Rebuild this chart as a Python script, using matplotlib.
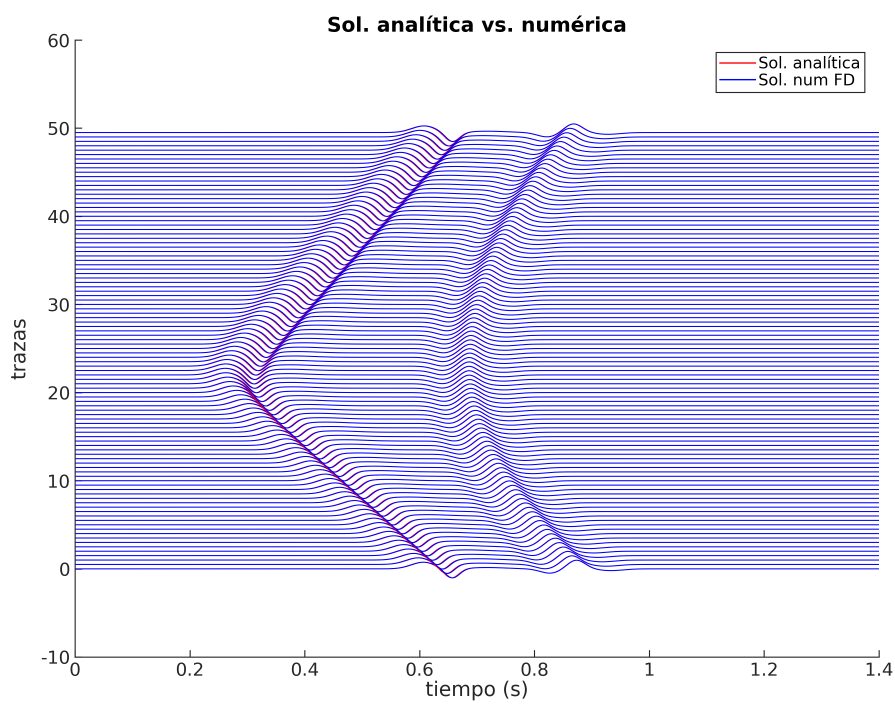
import numpy as np
import matplotlib
matplotlib.use("Agg")
import matplotlib.pyplot as plt

plt.rcParams["axes.unicode_minus"] = False

# Trace offsets (one trace every half unit on the y axis)
trace_offsets = np.arange(0, 50, 0.5)

# Trough time of the direct arrival on each trace (s), bottom to top
direct_t = [
    0.655, 0.646, 0.638, 0.629, 0.621, 0.612, 0.604, 0.595, 0.586, 0.578,
    0.569, 0.561, 0.552, 0.544, 0.535, 0.527, 0.518, 0.509, 0.501, 0.492,
    0.484, 0.475, 0.467, 0.459, 0.450, 0.442, 0.433, 0.425, 0.416, 0.408,
    0.400, 0.392, 0.383, 0.375, 0.367, 0.359, 0.352, 0.344, 0.337, 0.330,
    0.324, 0.318, 0.314, 0.311, 0.310, 0.311, 0.313, 0.317, 0.321, 0.326,
    0.331, 0.337, 0.343, 0.349, 0.355, 0.361, 0.368, 0.374, 0.381, 0.387,
    0.394, 0.400, 0.407, 0.414, 0.420, 0.427, 0.434, 0.440, 0.447, 0.454,
    0.460, 0.467, 0.474, 0.480, 0.487, 0.494, 0.501, 0.507, 0.514, 0.521,
    0.528, 0.534, 0.541, 0.548, 0.555, 0.561, 0.568, 0.575, 0.582, 0.588,
    0.595, 0.602, 0.609, 0.615, 0.622, 0.629, 0.636, 0.642, 0.649, 0.656,
]

# Peak time of the reflected arrival on each trace (s), bottom to top
refl_t = [
    0.872, 0.864, 0.857, 0.849, 0.842, 0.835, 0.828, 0.821, 0.815, 0.808,
    0.802, 0.795, 0.789, 0.783, 0.777, 0.772, 0.766, 0.761, 0.755, 0.750,
    0.745, 0.741, 0.736, 0.732, 0.727, 0.723, 0.720, 0.716, 0.712, 0.709,
    0.706, 0.703, 0.701, 0.698, 0.696, 0.694, 0.692, 0.690, 0.689, 0.688,
    0.687, 0.686, 0.685, 0.685, 0.685, 0.685, 0.685, 0.686, 0.686, 0.687,
    0.687, 0.688, 0.689, 0.690, 0.692, 0.693, 0.695, 0.696, 0.698, 0.700,
    0.702, 0.704, 0.707, 0.709, 0.712, 0.714, 0.717, 0.720, 0.723, 0.726,
    0.730, 0.733, 0.737, 0.740, 0.744, 0.748, 0.752, 0.756, 0.760, 0.764,
    0.768, 0.773, 0.777, 0.782, 0.787, 0.791, 0.796, 0.801, 0.806, 0.811,
    0.817, 0.822, 0.827, 0.833, 0.838, 0.844, 0.850, 0.855, 0.861, 0.867,
]

# Small lag of the finite-difference solution behind the analytic one (s)
fd_lag_direct = 0.002
fd_lag_refl = 0.001

t = np.arange(0.0, 1.4001, 0.001)


def direct_wavelet(tau):
    # leading positive lobe, main trough, weak positive tail
    return (0.75 * np.exp(-((tau + 0.05) / 0.03) ** 2)
            - 1.1 * np.exp(-(tau / 0.018) ** 2)
            + 0.15 * np.exp(-((tau - 0.06) / 0.05) ** 2))


def refl_wavelet(tau):
    # leading trough, main peak, weak trailing trough
    return (-0.5 * np.exp(-((tau + 0.045) / 0.025) ** 2)
            + 1.0 * np.exp(-(tau / 0.022) ** 2)
            - 0.2 * np.exp(-((tau - 0.06) / 0.03) ** 2))


# Drawn at 3x resolution and box-filtered down to 895 x 704 pixels
SS = 3
W, H = 895, 704
fig = plt.figure(figsize=(W / 100, H / 100), dpi=100 * SS)
ax = fig.add_axes([75 / W, 1 - 657 / H, (879 - 75) / W, (657 - 40) / H])

for i, y in enumerate(trace_offsets):
    td, tr = direct_t[i], refl_t[i]
    ana = direct_wavelet(t - td) + refl_wavelet(t - tr)
    num = (direct_wavelet(t - td - fd_lag_direct)
           + refl_wavelet(t - tr - fd_lag_refl))
    ax.plot(t, ana + y, color=(1, 0, 0), lw=0.5,
            label="Sol. analítica" if i == 0 else None)
    ax.plot(t, num + y, color=(0, 0, 1), lw=0.75,
            label="Sol. num FD" if i == 0 else None)

ax.set_xlim(0, 1.4)
ax.set_ylim(-10, 60)
ax.set_xticks(np.arange(0, 1.41, 0.2))
ax.set_xticklabels(["0", "0.2", "0.4", "0.6", "0.8", "1", "1.2", "1.4"])
ax.set_yticks(np.arange(-10, 61, 10))
for s in ["top", "right"]:
    ax.spines[s].set_visible(False)
for s in ["left", "bottom"]:
    ax.spines[s].set_color("#262626")
    ax.spines[s].set_linewidth(0.8)
ax.tick_params(direction="in", length=5, width=0.8, colors="#262626",
               labelsize=13)
ax.set_xlabel("tiempo (s)", fontsize=14.5, color="#262626", labelpad=1)
ax.set_ylabel("trazas", fontsize=14.5, color="#262626", labelpad=8)
ax.set_title("Sol. analítica vs. numérica", fontsize=14.5, fontweight="bold",
             pad=6)
leg = ax.legend(loc="upper right", bbox_to_anchor=(0.982, 0.98), fontsize=11.5,
                frameon=True, fancybox=False, framealpha=1, edgecolor="#262626",
                handlelength=2.2, handletextpad=0.2, borderpad=0.25,
                labelspacing=0.05, borderaxespad=0)
leg.get_frame().set_linewidth(0.8)
for line in leg.get_lines():
    line.set_linewidth(1.0)

fig.canvas.draw()
hi = np.asarray(fig.canvas.buffer_rgba()).astype(np.float64)
lo = hi.reshape(H, SS, W, SS, 4).mean(axis=(1, 3))
plt.imsave("out.png", np.clip(np.round(lo), 0, 255).astype(np.uint8))
